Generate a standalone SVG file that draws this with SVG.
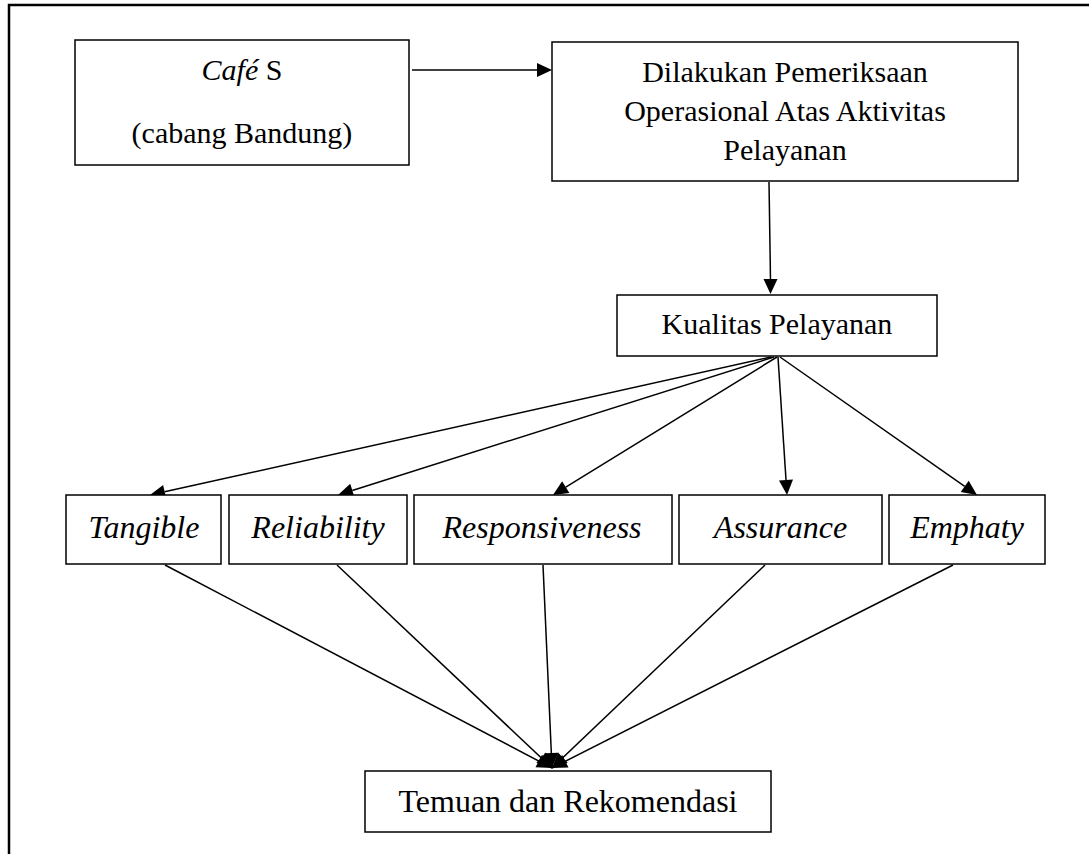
<svg xmlns="http://www.w3.org/2000/svg" width="1089" height="854" viewBox="0 0 1089 854">
<defs>
<style>
.box{fill:#fff;stroke:#000;stroke-width:1.5}
.t{font-family:"Liberation Serif","Times New Roman",serif;font-size:30px;fill:#000;text-anchor:middle}
.i{font-style:italic}
.b{font-size:32px}
.p{stroke:#000;stroke-width:1.5;fill:none}
.h{fill:#000;stroke:none}
</style>
</defs>
<rect width="1089" height="854" fill="#fff"/>
<g id="frame">
<path d="M9,854 L9,5 L1089,5" fill="none" stroke="#000" stroke-width="2.5"/>
</g>
<g id="connectors">
<line class="p" x1="412" y1="70" x2="538" y2="70"/>
<path class="h" d="M537,63 L552,70 L537,77 Z"/>
<line class="p" x1="769" y1="182" x2="770.5" y2="280"/>
<path class="h" d="M763.5,279 L777.5,279 L770.5,294 Z"/>
<line class="p" x1="771" y1="357" x2="164.6" y2="491.8"/>
<path class="h" d="M150,495 L163.1,484.9 L166.2,498.6 Z"/>
<line class="p" x1="774" y1="357" x2="352.3" y2="490.5"/>
<path class="h" d="M338,495 L350.2,483.8 L354.4,497.1 Z"/>
<line class="p" x1="777" y1="357" x2="565.8" y2="487.1"/>
<path class="h" d="M553,495 L562.1,481.2 L569.4,493.1 Z"/>
<line class="p" x1="778" y1="357" x2="786" y2="480"/>
<path class="h" d="M787,495 L779,480.5 L793,479.6 Z"/>
<line class="p" x1="780" y1="357" x2="964.7" y2="486.4"/>
<path class="h" d="M977,495 L960.7,492.1 L968.7,480.7 Z"/>
<line class="p" x1="165" y1="565" x2="552" y2="768"/>
<line class="p" x1="337" y1="565" x2="552" y2="768"/>
<line class="p" x1="543" y1="565" x2="552" y2="768"/>
<line class="p" x1="765" y1="565" x2="552" y2="768"/>
<line class="p" x1="953" y1="565" x2="552" y2="768"/>
<path class="h" d="M552,768 L535.5,767.2 L542,754.8 Z"/>
<path class="h" d="M552,768 L536.3,762.8 L545.9,752.6 Z"/>
<path class="h" d="M552,768 L544.4,753.3 L558.3,752.7 Z"/>
<path class="h" d="M552,768 L558,752.6 L567.7,762.7 Z"/>
<path class="h" d="M552,768 L562.2,755 L568.5,767.5 Z"/>
</g>
<g id="cafe">
<rect class="box" x="75" y="40" width="334" height="125"/>
<text class="t" x="242" y="80"><tspan class="i">Café</tspan> S</text>
<text class="t" x="242" y="143">(cabang Bandung)</text>
</g>
<g id="dilakukan">
<rect class="box" x="552" y="42" width="466" height="139"/>
<text class="t" x="785" y="82">Dilakukan Pemeriksaan</text>
<text class="t" x="785" y="121">Operasional Atas Aktivitas</text>
<text class="t" x="785" y="160">Pelayanan</text>
</g>
<g id="kualitas">
<rect class="box" x="617" y="295" width="320" height="61"/>
<text class="t" x="777" y="334">Kualitas Pelayanan</text>
</g>
<g id="tangible">
<rect class="box" x="66" y="495" width="155" height="69"/>
<text class="t i b" x="144" y="538">Tangible</text>
</g>
<g id="reliability">
<rect class="box" x="229" y="495" width="178" height="69"/>
<text class="t i b" x="318" y="538">Reliability</text>
</g>
<g id="responsiveness">
<rect class="box" x="414" y="495" width="258" height="69"/>
<text class="t i b" x="542" y="538">Responsiveness</text>
</g>
<g id="assurance">
<rect class="box" x="679" y="495" width="203" height="69"/>
<text class="t i b" x="780.5" y="538">Assurance</text>
</g>
<g id="emphaty">
<rect class="box" x="889" y="495" width="156" height="69"/>
<text class="t i b" x="967" y="538">Emphaty</text>
</g>
<g id="temuan">
<rect class="box" x="365" y="771" width="406" height="61"/>
<text class="t b" x="568" y="812">Temuan dan Rekomendasi</text>
</g>
</svg>
